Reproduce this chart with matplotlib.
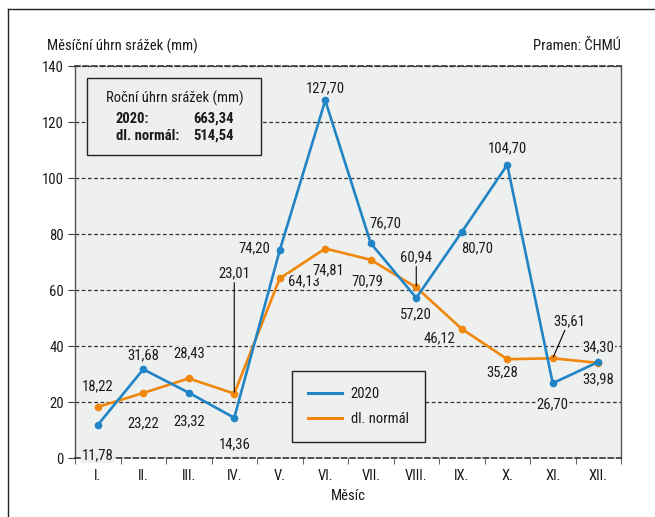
import matplotlib
matplotlib.use("Agg")
import matplotlib.pyplot as plt
from matplotlib.lines import Line2D
from matplotlib.patches import Rectangle

plt.rcParams['font.family'] = ['Roboto Condensed', 'DejaVu Sans']
plt.rcParams['font.size'] = 10.5

# data
mesice = ['I.', 'II.', 'III.', 'IV.', 'V.', 'VI.', 'VII.', 'VIII.', 'IX.', 'X.', 'XI.', 'XII.']
rok2020 = [11.78, 31.68, 23.32, 14.36, 74.20, 127.70, 76.70, 57.20, 80.70, 104.70, 26.70, 34.30]
normal = [18.22, 23.22, 28.43, 23.01, 64.13, 74.81, 70.79, 60.94, 46.12, 35.28, 35.61, 33.98]
rocni_2020 = '663,34'
rocni_normal = '514,54'

# posuny popisku (px), kladne = nahoru
off_2020 = [(0, -30), (0, 14), (0, -29), (0, -27), (-25, 2), (0, 12),
            (15, 20), (0, -16), (15, -16), (0, 17), (0, -21), (0, 15)]
off_norm = [(0, 21), (0, -30), (0, 25), (0, 120), (24, -3), (3, -22),
            (-3, -22), (0, 30), (-22, -9), (-5, -13), (16, 37), (0, -16)]
sipky_norm = [3, 7, 10]

modra = '#2185c5'
oranz = '#f0870c'
pozadi = '#eeefef'
txt = '#1a1a1a'

fig = plt.figure(figsize=(6.55, 5.17), dpi=100)
ax = fig.add_axes([75/655, 1 - 458/517, 546/655, 392/517])
ax.set_facecolor(pozadi)

x = list(range(len(mesice)))
ax.plot(x, rok2020, color=modra, lw=1.9, marker='o', ms=4.5, zorder=4)
ax.plot(x, normal, color=oranz, lw=1.9, marker='o', ms=4.5, zorder=3)

def fmt(v):
    return f'{v:.2f}'.replace('.', ',')

for i, v in enumerate(rok2020):
    ax.annotate(fmt(v), (i, v), xytext=off_2020[i], textcoords='offset pixels',
                ha='center', va='center', color=txt, zorder=5,
                bbox=dict(boxstyle='square,pad=0.05', fc=pozadi, ec='none'))
for i, v in enumerate(normal):
    arrow = None
    if i in sipky_norm:
        arrow = dict(arrowstyle='-', color='black', lw=0.8, shrinkA=1, shrinkB=1)
    ax.annotate(fmt(v), (i, v), xytext=off_norm[i], textcoords='offset pixels',
                ha='center', va='center', color=txt, zorder=5, arrowprops=arrow,
                bbox=dict(boxstyle='square,pad=0.05', fc=pozadi, ec='none'))

ax.set_xlim(-0.5, 11.5)
ax.set_ylim(0, 140)
ax.set_yticks(range(0, 141, 20))
ax.set_xticks(x)
ax.set_xticklabels(mesice)
ax.set_xticks([i - 0.5 for i in range(13)], minor=True)
ax.tick_params(axis='x', which='major', length=0, pad=8, colors=txt)
ax.tick_params(axis='x', which='minor', length=4, color='#444')
ax.tick_params(axis='y', length=5, color='#444', colors=txt, pad=3)
ax.grid(axis='y', color='#333', lw=0.9, ls=(0, (3, 2)))
for s in ['left', 'right']:
    ax.spines[s].set_color('#555')
    ax.spines[s].set_linewidth(1)
for s in ['top', 'bottom']:
    ax.spines[s].set_color('#333')
    ax.spines[s].set_linestyle((0, (3, 2)))
    ax.spines[s].set_linewidth(1.2)

ax.set_xlabel('Měsíc', color=txt, labelpad=4)
fig.text(47/655, 1 - 46/517, 'Měsíční úhrn srážek (mm)', ha='left', va='center', color=txt)
fig.text(621/655, 1 - 46/517, 'Pramen: ČHMÚ', ha='right', va='center', color=txt)

handles = [Line2D([], [], color=modra, lw=2.2), Line2D([], [], color=oranz, lw=2.2)]
leg = ax.legend(handles, ['2020', 'dl. normál'], loc='center',
                bbox_to_anchor=((358.5 - 75)/546, (458 - 406.5)/392),
                frameon=True, fancybox=False, edgecolor='#222', facecolor=pozadi,
                framealpha=1, handlelength=2.3, handletextpad=0.6, labelspacing=0.75,
                borderpad=1.1, borderaxespad=0)
leg.get_frame().set_linewidth(1)
for t in leg.get_texts():
    t.set_color(txt)

# box s rocnimi uhrny
fig.add_artist(Rectangle((87/655, 1 - 155/517), 174/655, 77/517, transform=fig.transFigure,
                         fc=pozadi, ec='#222', lw=1, zorder=5))
fig.text(175/655, 1 - 98/517, 'Roční úhrn srážek (mm)', ha='center', va='center', color=txt, zorder=6)
fig.text(116/655, 1 - 119/517, '2020:', ha='left', va='center', weight='bold', color=txt, zorder=6)
fig.text(193/655, 1 - 119/517, rocni_2020, ha='left', va='center', weight='bold', color=txt, zorder=6)
fig.text(116/655, 1 - 136/517, 'dl. normál:', ha='left', va='center', weight='bold', color=txt, zorder=6)
fig.text(193/655, 1 - 136/517, rocni_normal, ha='left', va='center', weight='bold', color=txt, zorder=6)

# ramecek obrazku
fig.add_artist(Line2D([8/655, 8/655], [0, 1 - 9/517], color='#222', lw=1, transform=fig.transFigure))
fig.add_artist(Line2D([8/655, 1], [1 - 9/517, 1 - 9/517], color='#222', lw=1, transform=fig.transFigure))

fig.savefig('out.png', dpi=100)
